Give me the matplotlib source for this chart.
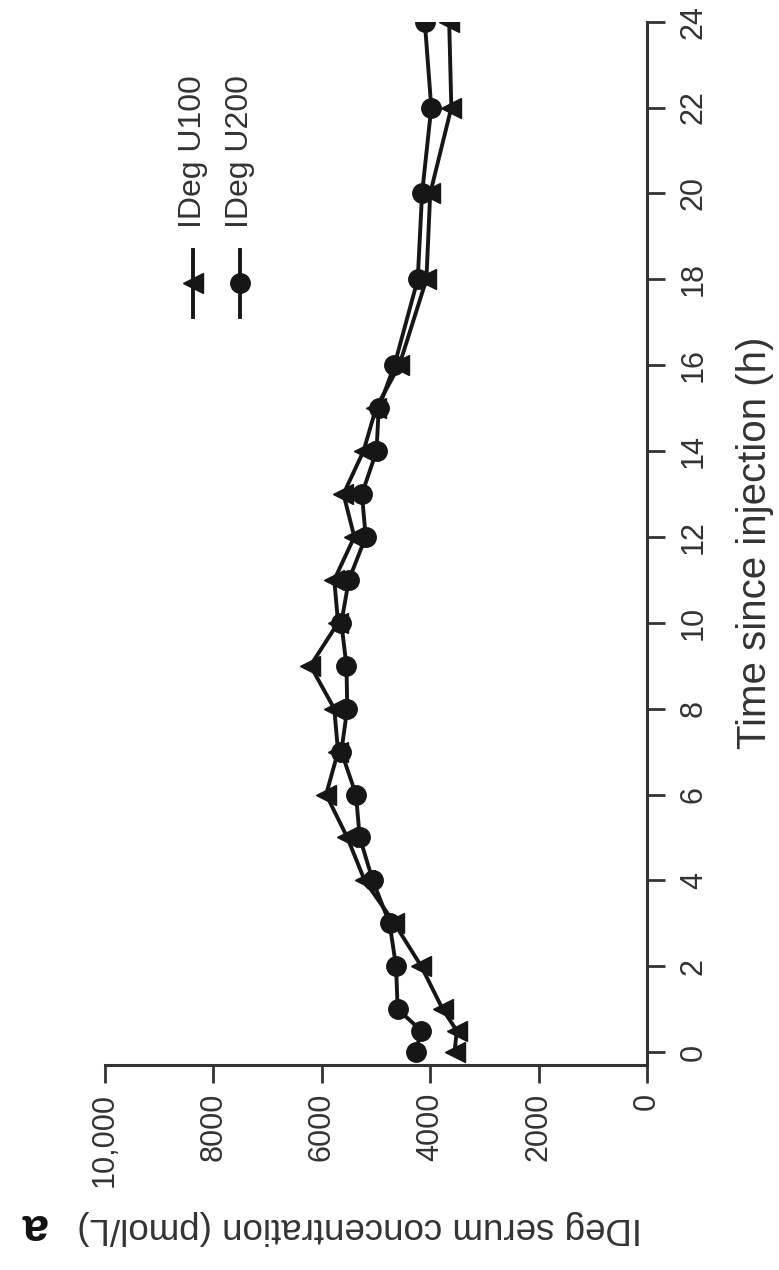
import matplotlib
matplotlib.use("Agg")
import matplotlib.pyplot as plt
from matplotlib.lines import Line2D

# time points (h) and serum concentrations (pmol/L)
hours = [0, 0.5, 1, 2, 3, 4, 5, 6, 7, 8, 9, 10, 11, 12, 13, 14, 15, 16, 18, 20, 22, 24]
u100 = [3550, 3510, 3770, 4165, 4660, 5210, 5530, 5920, 5700, 5770, 6210, 5700,
        5770, 5400, 5600, 5230, 5000, 4570, 4070, 4000, 3610, 3650]
u200 = [4270, 4165, 4600, 4630, 4750, 5060, 5300, 5370, 5640, 5530, 5545, 5640,
        5500, 5190, 5260, 4990, 4950, 4660, 4230, 4150, 3980, 4100]

series_names = ["IDeg U100", "IDeg U200"]
series_markers = ["<", "o"]

conc_ticks = [0, 2000, 4000, 6000, 8000, 10000]
conc_labels = ["0", "2000", "4000", "6000", "8000", "10,000"]
time_ticks = list(range(0, 25, 2))

W, H = 779, 1270
LINE = "#161616"
TEXT = "#333333"

plt.rcParams['font.family'] = ['Liberation Sans', 'DejaVu Sans']


def px(x, y):
    """pixel position (from top-left) -> figure fraction"""
    return x / W, 1 - y / H


fig = plt.figure(figsize=(W / 100, H / 100), dpi=100)
left, top = px(105, 21.7)
right, bottom = px(647, 1065)
ax = fig.add_axes([left, bottom, right - left, top - bottom])

# the whole panel is turned a quarter turn: time runs up, concentration runs left
for vals, mk, ms in zip([u100, u200], series_markers, [15, 14]):
    ax.plot(vals, hours, color=LINE, lw=2.8, marker=mk, ms=ms, mfc=LINE, mec=LINE)

ax.set_xlim(10000, 0)
ax.set_ylim(-0.3, 24)

ax.spines['top'].set_visible(False)
ax.spines['left'].set_visible(False)
for s in ['right', 'bottom']:
    ax.spines[s].set_linewidth(2.2)
    ax.spines[s].set_color(TEXT)

ax.yaxis.tick_right()
ax.set_yticks(time_ticks)
ax.set_yticklabels([str(t) for t in time_ticks], rotation=90, va='center')
ax.set_xticks(conc_ticks)
ax.set_xticklabels(conc_labels, rotation=90)
ax.tick_params(length=13, width=2.0, color=TEXT, labelcolor=TEXT, labelsize=22)
ax.tick_params(axis='y', pad=10)
ax.tick_params(axis='x', pad=7)

# axis titles
fig.text(*px(755, 543), "Time since injection (h)", rotation=90, ha='center',
         va='center', fontsize=29, color=TEXT)
fig.text(*px(360, 1228), "IDeg serum concentration (pmol/L)", rotation=180,
         ha='center', va='center', fontsize=26.5, color=TEXT)
fig.text(*px(34, 1226), "a", rotation=180, ha='center', va='center',
         fontsize=34, fontweight='bold', color='#111111')

# legend, drawn by hand so it can stand on its side
for name, mk, x in zip(series_names, series_markers, [193, 240]):
    x0, y0 = px(x, 250)
    _, y1 = px(x, 317)
    _, ym = px(x, 283)
    fig.add_artist(Line2D([x0, x0], [y0, y1], transform=fig.transFigure,
                          color=LINE, lw=2.8))
    fig.add_artist(Line2D([x0], [ym], transform=fig.transFigure, marker=mk,
                          ms=14, color=LINE, lw=0))
    fig.text(*px(x, 228), name, rotation=90, ha='center', va='bottom',
             fontsize=23, color=TEXT)

fig.savefig("out.png", dpi=100)
